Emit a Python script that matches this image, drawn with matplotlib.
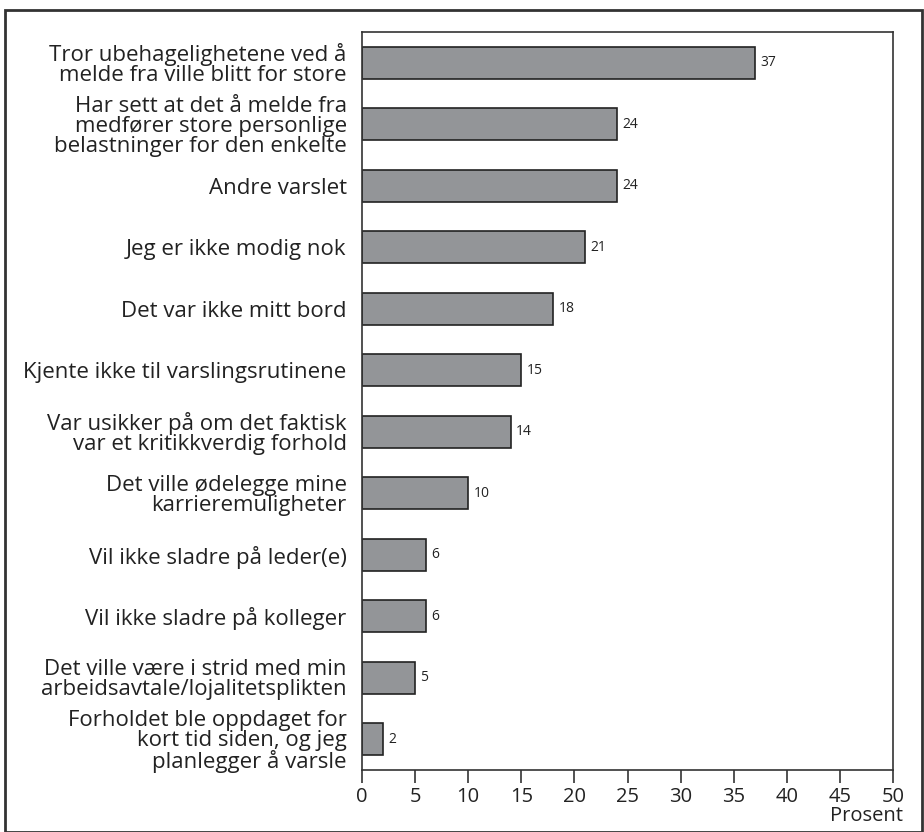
import matplotlib
matplotlib.use('Agg')
from matplotlib import pyplot as plt
from matplotlib.patches import Rectangle
import numpy as np

plt.rcParams['font.family'] = ['Open Sans', 'DejaVu Sans']

labels = [
    'Tror ubehagelighetene ved å\nmelde fra ville blitt for store',
    'Har sett at det å melde fra\nmedfører store personlige\nbelastninger for den enkelte',
    'Andre varslet',
    'Jeg er ikke modig nok',
    'Det var ikke mitt bord',
    'Kjente ikke til varslingsrutinene',
    'Var usikker på om det faktisk\nvar et kritikkverdig forhold',
    'Det ville ødelegge mine\nkarrieremuligheter',
    'Vil ikke sladre på leder(e)',
    'Vil ikke sladre på kolleger',
    'Det ville være i strid med min\narbeidsavtale/lojalitetsplikten',
    'Forholdet ble oppdaget for\nkort tid siden, og jeg\nplanlegger å varsle',
]
values = [37, 24, 24, 21, 18, 15, 14, 10, 6, 6, 5, 2]
xticks = [0, 5, 10, 15, 20, 25, 30, 35, 40, 45, 50]

fig = plt.figure(figsize=(9.24, 8.32), dpi=100)
ax = fig.add_axes([362 / 924, 1 - 770 / 832, (893 - 362) / 924, (770 - 32) / 832])

# outer frame
fig.patches.append(Rectangle((5 / 924, 0), 917 / 924, 1 - 10 / 832, transform=fig.transFigure,
                             fill=False, edgecolor='#333333', linewidth=2))

y = np.arange(len(values))
ax.barh(y, values, height=0.52, color='#939598', edgecolor='#222222', linewidth=1.2)
for yi, v in zip(y, values):
    ax.text(v + 0.5, yi, str(v), va='center', ha='left', fontsize=10, color='#222222')

ax.set_ylim(len(values) - 0.5, -0.5)
ax.set_xlim(0, 50)
ax.set_yticks(y)
ax.set_yticklabels(labels, fontsize=16, color='#222222', linespacing=0.95)
ax.tick_params(axis='y', length=0, pad=11)
ax.set_xticks(xticks)
ax.set_xticklabels([str(t) for t in xticks], fontsize=14.5, color='#222222')
ax.tick_params(axis='x', direction='out', length=9, width=1.2, color='#333333', pad=3)
for s in ax.spines.values():
    s.set_color('#333333')
    s.set_linewidth(1.2)

fig.text(903 / 924, 1 - 816 / 832, 'Prosent', ha='right', va='center', fontsize=14.5, color='#222222')

fig.savefig('out.png', dpi=100)
